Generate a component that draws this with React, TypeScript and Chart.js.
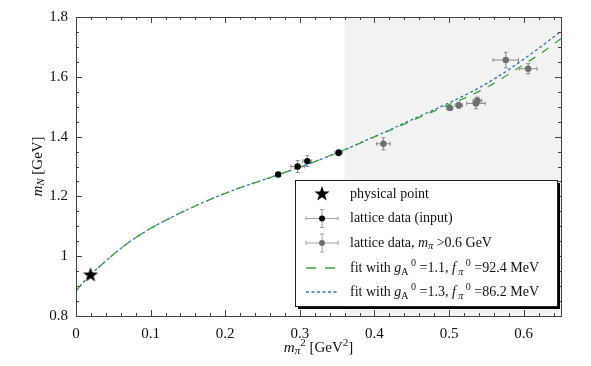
import React, { useEffect, useRef } from 'react';
import { Chart, registerables } from 'chart.js';
Chart.register(...registerables);

// Fit curves (m_pi^2 in GeV^2 -> m_N in GeV)
const fitX = [0, 0.01, 0.02, 0.03, 0.04, 0.06, 0.08, 0.10, 0.12, 0.14, 0.16, 0.18, 0.20, 0.22, 0.24, 0.26, 0.28, 0.30, 0.32, 0.34, 0.36, 0.38, 0.40, 0.42, 0.44, 0.46, 0.48, 0.50, 0.52, 0.54, 0.56, 0.58, 0.60, 0.62, 0.64, 0.65];
const fitBlue = [0.884, 0.913, 0.940, 0.962, 0.984, 1.026, 1.062, 1.093, 1.120, 1.145, 1.168, 1.190, 1.210, 1.229, 1.246, 1.263, 1.280, 1.298, 1.316, 1.336, 1.356, 1.378, 1.400, 1.422, 1.445, 1.468, 1.490, 1.513, 1.537, 1.563, 1.592, 1.624, 1.659, 1.695, 1.733, 1.753];
const fitGreen = [0.884, 0.913, 0.940, 0.962, 0.984, 1.026, 1.062, 1.093, 1.120, 1.145, 1.168, 1.190, 1.210, 1.229, 1.246, 1.263, 1.280, 1.298, 1.316, 1.336, 1.356, 1.377, 1.399, 1.420, 1.442, 1.464, 1.485, 1.507, 1.528, 1.551, 1.578, 1.609, 1.641, 1.673, 1.709, 1.728];

// Physical point
const physX = [0.0195];
const physY = [0.939];

// Lattice data (input)
const inX = [0.271, 0.297, 0.310, 0.352];
const inY = [1.273, 1.300, 1.318, 1.346];
const inXErr = [0.002, 0.009, 0.006, 0.005];
const inYErr = [0.006, 0.020, 0.018, 0.010];

// Lattice data, m_pi > 0.6 GeV
const hiX = [0.412, 0.501, 0.513, 0.536, 0.538, 0.576, 0.606];
const hiY = [1.376, 1.496, 1.505, 1.511, 1.520, 1.656, 1.627];
const hiXErr = [0.009, 0.004, 0.005, 0.0125, 0.006, 0.017, 0.012];
const hiYErr = [0.020, 0.008, 0.010, 0.018, 0.012, 0.026, 0.017];

const shadeFrom = 0.36;
const xTicks = [0, 0.1, 0.2, 0.3, 0.4, 0.5, 0.6];
const yTicks = [0.8, 1.0, 1.2, 1.4, 1.6, 1.8];

const SERIF = '"Liberation Serif", "DejaVu Serif", serif';
const BLUE = '#2f74b8';
const GREEN = '#3fa63f';

function makeStar(r: number) {
  const c = document.createElement('canvas');
  const s = Math.ceil(2 * r + 2);
  c.width = s; c.height = s;
  const g = c.getContext('2d')!;
  drawStar(g, s / 2, s / 2 + r * 0.08, r);
  return c;
}

function drawStar(g: CanvasRenderingContext2D, cx: number, cy: number, r: number) {
  g.beginPath();
  for (let i = 0; i < 10; i++) {
    const rr = i % 2 === 0 ? r : r * 0.4;
    const a = -Math.PI / 2 + (i * Math.PI) / 5;
    const px = cx + rr * Math.cos(a);
    const py = cy + rr * Math.sin(a);
    if (i === 0) g.moveTo(px, py); else g.lineTo(px, py);
  }
  g.closePath();
  g.fillStyle = '#000';
  g.fill();
}

type Part = { t: string; italic?: boolean; size?: number; dy?: number };
function drawRich(ctx: CanvasRenderingContext2D, x: number, y: number, parts: Part[], base: number, align: 'left' | 'center' = 'left') {
  const setFont = (p: Part) => {
    ctx.font = `${p.italic ? 'italic ' : ''}${p.size ?? base}px ${SERIF}`;
  };
  let total = 0;
  for (const p of parts) { setFont(p); total += ctx.measureText(p.t).width; }
  let cx = align === 'center' ? x - total / 2 : x;
  ctx.textBaseline = 'middle';
  ctx.textAlign = 'left';
  for (const p of parts) {
    setFont(p);
    ctx.fillText(p.t, cx, y + (p.dy ?? 0));
    cx += ctx.measureText(p.t).width;
  }
}

function errBar(ctx: CanvasRenderingContext2D, x0: number, x1: number, y0: number, y1: number, cx: number, cy: number, color: string) {
  ctx.save();
  ctx.strokeStyle = color;
  ctx.lineWidth = 1;
  ctx.beginPath();
  ctx.moveTo(x0, cy); ctx.lineTo(x1, cy);
  ctx.moveTo(cx, y0); ctx.lineTo(cx, y1);
  const c = 2;
  ctx.moveTo(x0, cy - c); ctx.lineTo(x0, cy + c);
  ctx.moveTo(x1, cy - c); ctx.lineTo(x1, cy + c);
  ctx.moveTo(cx - c, y0); ctx.lineTo(cx + c, y0);
  ctx.moveTo(cx - c, y1); ctx.lineTo(cx + c, y1);
  ctx.stroke();
  ctx.restore();
}

const decorPlugin = {
  id: 'decor',
  beforeDatasetsDraw(chart: any) {
    const { ctx, chartArea: a, scales } = chart;
    const xs = scales.x, ys = scales.y;
    ctx.save();
    const sx = xs.getPixelForValue(shadeFrom);
    ctx.fillStyle = '#f2f2f2';
    ctx.fillRect(sx, a.top, a.right - sx, a.bottom - a.top);
    const sets: [number[], number[], number[], number[], string][] = [
      [hiX, hiY, hiXErr, hiYErr, '#8a8a8a'],
      [inX, inY, inXErr, inYErr, '#8a8a8a'],
    ];
    for (const [X, Y, XE, YE, col] of sets) {
      for (let i = 0; i < X.length; i++) {
        errBar(ctx,
          xs.getPixelForValue(X[i] - XE[i]), xs.getPixelForValue(X[i] + XE[i]),
          ys.getPixelForValue(Y[i] - YE[i]), ys.getPixelForValue(Y[i] + YE[i]),
          xs.getPixelForValue(X[i]), ys.getPixelForValue(Y[i]), col);
      }
    }
    ctx.restore();
  },
  afterDraw(chart: any) {
    const { ctx, chartArea: a, scales } = chart;
    const xs = scales.x, ys = scales.y;
    ctx.save();
    ctx.strokeStyle = '#444';
    ctx.lineWidth = 1;
    ctx.strokeRect(Math.round(a.left) + 0.5, Math.round(a.top) + 0.5, Math.round(a.right - a.left), Math.round(a.bottom - a.top));
    ctx.beginPath();
    for (let i = 0; i <= 32; i++) {
      const v = i * 0.02;
      const px = Math.round(xs.getPixelForValue(v)) + 0.5;
      const major = i % 5 === 0;
      const L = major ? 6 : 3;
      ctx.moveTo(px, a.bottom); ctx.lineTo(px, a.bottom - L);
      ctx.moveTo(px, a.top); ctx.lineTo(px, a.top + L);
    }
    for (let i = 0; i <= 20; i++) {
      const v = 0.8 + i * 0.05;
      const py = Math.round(ys.getPixelForValue(v)) + 0.5;
      const major = i % 4 === 0;
      const L = major ? 6 : 3;
      ctx.moveTo(a.left, py); ctx.lineTo(a.left + L, py);
      ctx.moveTo(a.right, py); ctx.lineTo(a.right - L, py);
    }
    ctx.stroke();

    ctx.fillStyle = '#111';
    drawRich(ctx, (a.left + a.right) / 2, 348, [
      { t: 'm', italic: true },
      { t: 'π', italic: true, size: 11, dy: 3 },
      { t: '2', size: 11, dy: -5 },
      { t: ' [GeV' },
      { t: '2', size: 11, dy: -5 },
      { t: ']' },
    ], 15, 'center');
    ctx.save();
    ctx.translate(38, (a.top + a.bottom) / 2);
    ctx.rotate(-Math.PI / 2);
    drawRich(ctx, 0, 0, [
      { t: 'm', italic: true },
      { t: 'N', italic: true, size: 11, dy: 3 },
      { t: ' [GeV]' },
    ], 15, 'center');
    ctx.restore();

    const L0 = 295, T0 = 180, W = 262, H = 126;
    ctx.fillStyle = '#000';
    ctx.fillRect(L0 + 3, T0 + 3, W, H);
    ctx.fillStyle = '#fff';
    ctx.fillRect(L0, T0, W, H);
    ctx.strokeStyle = '#222';
    ctx.lineWidth = 1;
    ctx.strokeRect(L0 + 0.5, T0 + 0.5, W, H);

    const sxc = 322, tx = 350;
    const rows = [194, 218.5, 243, 268, 292];
    drawStar(ctx, sxc, rows[0], 8);
    errBar(ctx, 306, 338, rows[1] - 9, rows[1] + 9, sxc, rows[1], '#a0a0a0');
    ctx.fillStyle = '#000';
    ctx.beginPath(); ctx.arc(sxc, rows[1], 3, 0, Math.PI * 2); ctx.fill();
    errBar(ctx, 306, 338, rows[2] - 9, rows[2] + 9, sxc, rows[2], '#a0a0a0');
    ctx.fillStyle = '#6e6e6e';
    ctx.beginPath(); ctx.arc(sxc, rows[2], 3, 0, Math.PI * 2); ctx.fill();
    ctx.lineWidth = 1.3;
    ctx.strokeStyle = GREEN;
    ctx.setLineDash([10, 9]);
    ctx.beginPath(); ctx.moveTo(306, rows[3]); ctx.lineTo(338, rows[3]); ctx.stroke();
    ctx.strokeStyle = BLUE;
    ctx.setLineDash([3, 2.5]);
    ctx.beginPath(); ctx.moveTo(306, rows[4]); ctx.lineTo(338, rows[4]); ctx.stroke();
    ctx.setLineDash([]);

    ctx.fillStyle = '#111';
    const fs = 14;
    drawRich(ctx, tx, rows[0], [{ t: 'physical point' }], fs);
    drawRich(ctx, tx, rows[1], [{ t: 'lattice data (input)' }], fs);
    drawRich(ctx, tx, rows[2], [
      { t: 'lattice data, ' },
      { t: 'm', italic: true },
      { t: 'π', italic: true, size: 10, dy: 3 },
      { t: ' >0.6 GeV' },
    ], fs);
    const fitRow = (y: number, g: string, f: string) => drawRich(ctx, tx, y, [
      { t: 'fit with ' },
      { t: 'g', italic: true },
      { t: 'A', size: 10, dy: 4 },
      { t: ' 0', size: 10, dy: -5 },
      { t: ' =' + g + ', ' },
      { t: 'f', italic: true },
      { t: ' π', italic: true, size: 10, dy: 4 },
      { t: ' 0', size: 10, dy: -5 },
      { t: ' =' + f + ' MeV' },
    ], fs);
    fitRow(rows[3], '1.1', '92.4');
    fitRow(rows[4], '1.3', '86.2');
    ctx.restore();
  },
};

export default function App() {
  const ref = useRef<HTMLCanvasElement | null>(null);
  useEffect(() => {
    document.body.style.margin = '0';
    const star = makeStar(8);
    const pts = (X: number[], Y: number[]) => X.map((x, i) => ({ x, y: Y[i] }));
    const chart = new Chart(ref.current!, {
      type: 'scatter',
      data: {
        datasets: [
          {
            label: 'fit gA0=1.3',
            data: pts(fitX, fitBlue),
            showLine: true,
            borderColor: BLUE,
            borderWidth: 1.3,
            borderDash: [3, 2.5],
            pointRadius: 0,
            cubicInterpolationMode: 'monotone',
            order: 5,
          } as any,
          {
            label: 'fit gA0=1.1',
            data: pts(fitX, fitGreen),
            showLine: true,
            borderColor: GREEN,
            borderWidth: 1.3,
            borderDash: [8, 8],
            pointRadius: 0,
            cubicInterpolationMode: 'monotone',
            order: 4,
          } as any,
          {
            label: 'lattice high',
            data: pts(hiX, hiY),
            pointRadius: 3.2,
            backgroundColor: '#6e6e6e',
            borderColor: '#6e6e6e',
            borderWidth: 0,
            order: 3,
          },
          {
            label: 'lattice input',
            data: pts(inX, inY),
            pointRadius: 3.2,
            backgroundColor: '#000',
            borderColor: '#000',
            borderWidth: 0,
            order: 2,
          },
          {
            label: 'physical point',
            data: pts(physX, physY),
            pointStyle: star as any,
            pointRadius: 8,
            order: 1,
          },
        ],
      },
      options: {
        animation: false,
        responsive: false,
        maintainAspectRatio: false,
        layout: { padding: { top: 16, right: 30, left: 0, bottom: 0 } },
        plugins: { legend: { display: false }, tooltip: { enabled: false } },
        scales: {
          x: {
            type: 'linear',
            min: 0, max: 0.65,
            afterFit: (s: any) => { s.height = 50; },
            afterBuildTicks: (s: any) => { s.ticks = xTicks.map((v) => ({ value: v })); },
            grid: { display: false, drawTicks: false },
            border: { display: false },
            ticks: {
              padding: 9,
              color: '#111',
              font: { family: SERIF, size: 15 },
              callback: (v: any) => String(Number(v)),
            },
          },
          y: {
            type: 'linear',
            min: 0.8, max: 1.8,
            afterFit: (s: any) => { s.width = 76; },
            afterBuildTicks: (s: any) => { s.ticks = yTicks.map((v) => ({ value: v })); },
            grid: { display: false, drawTicks: false },
            border: { display: false },
            ticks: {
              padding: 8,
              color: '#111',
              font: { family: SERIF, size: 15 },
              callback: (v: any) => String(Math.round(Number(v) * 10) / 10),
            },
          },
        },
      },
      plugins: [decorPlugin],
    });
    return () => chart.destroy();
  }, []);
  return (
    <div style={{ width: 591, height: 366 }}>
      <canvas ref={ref} width={591} height={366} style={{ display: 'block', width: 591, height: 366 }} />
    </div>
  );
}
